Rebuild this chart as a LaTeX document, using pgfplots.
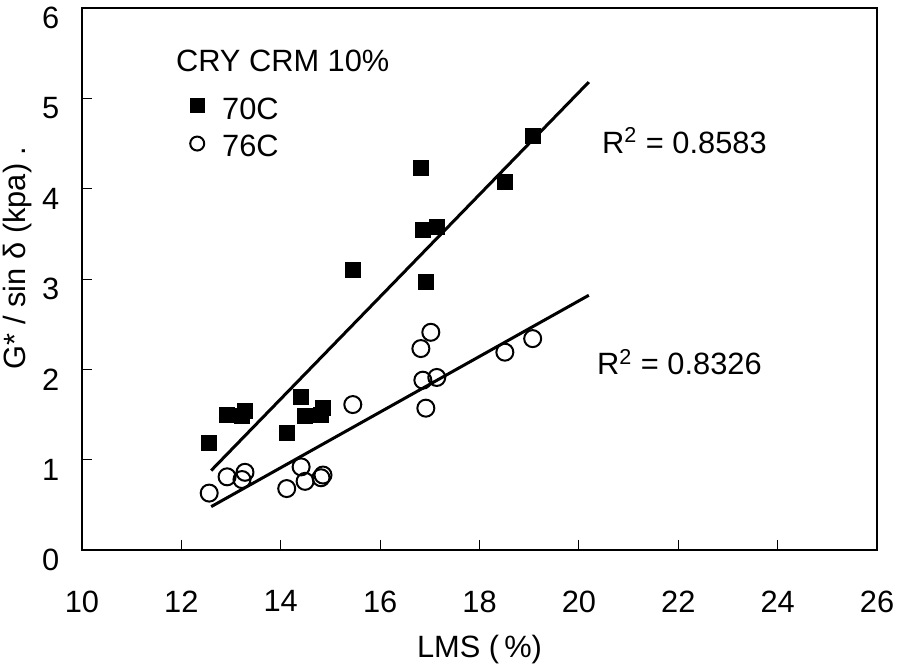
\documentclass[border=0pt]{standalone}
\usepackage{pgfplots}
\pgfplotsset{compat=1.18}
\usepackage{fontspec}
\setmainfont{Liberation Sans}
\usetikzlibrary{calc}

\begin{document}
\begin{tikzpicture}
\fontsize{15.4}{18}\selectfont
\begin{axis}[
    scale only axis,
    width=397.5pt, height=271pt,
    xmin=10, xmax=26, ymin=0, ymax=6,
    xtick={10,12,...,26}, ytick={0,1,...,6},
    tick pos=left, tick align=inside,
    major tick length=5pt,
    tick style={black, line width=0.5pt},
    axis line style={line width=1pt},
    /pgf/number format/assume math mode=true,
    tick label style={font=\fontsize{15.4}{18}\selectfont},
    xticklabel style={yshift=-15pt},
    yticklabel style={xshift=-6pt, yshift=-5pt},
    xlabel={LMS (\,\%)},
    xlabel style={at={(axis description cs:0.5,-0.1845)}, anchor=center, font=\fontsize{15.4}{18}\selectfont},
    ylabel={G* / sin δ (kpa) .},
    ylabel style={at={(axis description cs:-0.0805,0.539)}, anchor=center, font=\fontsize{15.4}{18}\selectfont},
    legend style={draw=none, fill=none, inner sep=0pt, at={(axis cs:12.17,5.055)}, anchor=north west,
        font=\fontsize{15.4}{18}\selectfont, row sep=1.8pt, column sep=4pt,
        nodes={inner xsep=5pt}},
    legend cell align=left,
    legend image code/.code={\draw[#1, mark size=3.5pt] plot coordinates {(0cm,2.5pt)};},
]
% 70C
\addplot[only marks, mark=square*, mark size=3.75pt, black] coordinates {
(12.56,1.19) (12.92,1.50) (13.22,1.48) (13.28,1.54) (14.12,1.30)
(14.41,1.70) (14.49,1.48) (14.81,1.50) (14.85,1.57) (15.45,3.10)
(16.82,4.23) (16.86,3.54) (17.14,3.58) (16.92,2.97) (18.51,4.08)
(19.07,4.58)};
% 76C
\addplot[only marks, mark=o, mark size=4.25pt, line width=1pt, black] coordinates {
(12.56,0.63) (12.92,0.81) (13.22,0.78) (13.28,0.86) (14.12,0.68)
(14.41,0.92) (14.49,0.76) (14.81,0.80) (14.85,0.83) (15.45,1.61)
(16.82,2.23) (16.86,1.88) (16.92,1.57) (17.02,2.41) (17.14,1.91)
(18.51,2.19) (19.07,2.34)};
\legend{70C,76C}
% trend lines
\addplot[black, line width=1.5pt, forget plot] coordinates {(12.6,0.88) (20.2,5.18)};
\addplot[black, line width=1.5pt, forget plot] coordinates {(12.6,0.48) (20.2,2.82)};
\node at (axis cs:14.04,5.41) {CRY CRM 10\%};
\node[anchor=west, inner sep=0pt] at (axis cs:20.46,4.53) {R\textsuperscript{2} = 0.8583};
\node[anchor=west, inner sep=0pt] at (axis cs:20.36,2.08) {R\textsuperscript{2} = 0.8326};
\end{axis}
\pgfresetboundingbox
\path ($(current axis.south west)+(-41pt,-59pt)$) rectangle ($(current axis.north east)+(10.5pt,4pt)$);
\end{tikzpicture}
\end{document}
